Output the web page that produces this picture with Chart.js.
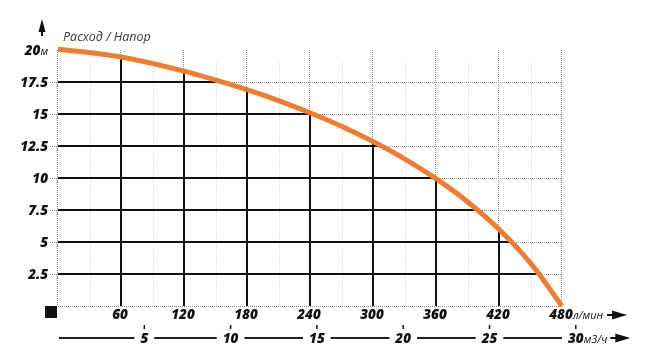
<!DOCTYPE html>
<html>
<head>
<meta charset="utf-8">
<script src="https://cdn.jsdelivr.net/npm/chart.js@4.4.1/dist/chart.umd.min.js"></script>
<style>
  body { margin: 0; background: #fff; }
  #wrap { width: 650px; height: 355px; position: relative; }
</style>
</head>
<body>
<div id="wrap"><canvas id="pump-chart"></canvas></div>
<script>
// flow (l/min) and head (m)
const flowLpm = [0, 30, 60, 90, 120, 150, 180, 210, 240, 270, 300, 330, 360, 390, 420, 450, 480];
const headM = [20.05, 19.8, 19.45, 18.95, 18.35, 17.65, 16.9, 16.05, 15.1, 14.05, 12.85, 11.5, 9.95, 8.15, 6.0, 3.35, 0];

const flowTicks = [60, 120, 180, 240, 300, 360, 420, 480];
const minorFlowLines = [30, 90, 150, 210, 270, 330, 390, 450];
const headTicks = [2.5, 5, 7.5, 10, 12.5, 15, 17.5, 20];
const m3hTicks = [5, 10, 15, 20, 25, 30];

const titleText = 'Расход / Напор';
const headUnit = 'м';
const flowUnit = 'л/мин';
const m3hUnit = 'м3/ч';

const ORANGE = '#ef7d31';
const BOLD = 'italic 800 13.5px "Open Sans"';
const UNIT = 'italic 11px "Open Sans"';

const canvas = document.getElementById('pump-chart');

function curvePath(ctx, chart) {
  const meta = chart.getDatasetMeta(0);
  const pts = meta.data;
  const { bottom, left } = chart.chartArea;
  ctx.beginPath();
  ctx.moveTo(pts[0].x, pts[0].y);
  for (let i = 1; i < pts.length; i++) {
    const p = pts[i - 1], c = pts[i];
    if (p.cp2x !== undefined && c.cp1x !== undefined) {
      ctx.bezierCurveTo(p.cp2x, p.cp2y, c.cp1x, c.cp1y, c.x, c.y);
    } else {
      ctx.lineTo(c.x, c.y);
    }
  }
  ctx.lineTo(pts[pts.length - 1].x, bottom + 1);
  ctx.lineTo(left - 1, bottom + 1);
  ctx.lineTo(left - 1, pts[0].y);
  ctx.closePath();
}

const gridPlugin = {
  id: 'pumpGrid',
  beforeDatasetsDraw(chart) {
    const ctx = chart.ctx;
    const x = chart.scales.x, y = chart.scales.y;
    const top = y.getPixelForValue(20), bottom = y.getPixelForValue(0);
    const left = x.getPixelForValue(0), right = x.getPixelForValue(480);
    ctx.save();

    // minor light dotted verticals
    ctx.strokeStyle = '#c8c8c8';
    ctx.lineWidth = 1;
    ctx.setLineDash([1, 2]);
    minorFlowLines.forEach(v => {
      const px = Math.round(x.getPixelForValue(v)) + 0.5;
      ctx.beginPath();
      ctx.moveTo(px, y.getPixelForValue(19.1));
      ctx.lineTo(px, bottom);
      ctx.stroke();
    });

    // major dotted grid (visible above curve)
    ctx.strokeStyle = '#8a8a8a';
    ctx.setLineDash([1, 1]);
    [0].concat(flowTicks).forEach(v => {
      const px = Math.round(x.getPixelForValue(v)) - 0.5;
      ctx.beginPath();
      ctx.moveTo(px, top);
      ctx.lineTo(px, bottom);
      ctx.stroke();
    });
    [0].concat(headTicks.filter(v => v < 20)).forEach(v => {
      const py = Math.round(y.getPixelForValue(v)) + 0.5;
      ctx.beginPath();
      ctx.moveTo(v === 0 ? left : left - 8, py);
      ctx.lineTo(right, py);
      ctx.stroke();
    });

    // solid black grid below the curve
    curvePath(ctx, chart);
    ctx.clip();
    ctx.setLineDash([]);
    ctx.strokeStyle = '#111';
    ctx.lineWidth = 2;
    flowTicks.forEach(v => {
      const px = Math.round(x.getPixelForValue(v));
      ctx.beginPath();
      ctx.moveTo(px, top);
      ctx.lineTo(px, bottom);
      ctx.stroke();
    });
    headTicks.filter(v => v < 20).forEach(v => {
      const py = Math.round(y.getPixelForValue(v));
      ctx.beginPath();
      ctx.moveTo(left, py);
      ctx.lineTo(right, py);
      ctx.stroke();
    });
    ctx.restore();
  },
  afterDraw(chart) {
    const ctx = chart.ctx;
    const x = chart.scales.x, y = chart.scales.y, x2 = chart.scales.x2;
    const bottom = y.getPixelForValue(0);
    ctx.save();
    ctx.fillStyle = '#111';
    ctx.textBaseline = 'middle';

    // y labels
    ctx.textAlign = 'right';
    headTicks.forEach(v => {
      const py = y.getPixelForValue(v) + 1;
      let xr = 48;
      if (v === 20) {
        ctx.font = UNIT;
        ctx.fillText(headUnit, xr, py + 1);
        xr -= ctx.measureText(headUnit).width;
      }
      ctx.font = BOLD;
      ctx.fillText(String(v), xr, py);
    });

    // y arrow
    ctx.beginPath();
    ctx.moveTo(42, 19);
    ctx.lineTo(45.5, 32);
    ctx.lineTo(38.5, 32);
    ctx.closePath();
    ctx.fill();
    ctx.fillRect(41, 30, 2, 6);

    // title
    ctx.textAlign = 'left';
    ctx.font = 'italic 12.5px "Open Sans"';
    ctx.fillStyle = '#3a3a3a';
    ctx.fillText(titleText, 63, 37);
    ctx.fillStyle = '#111';

    // black square at origin
    ctx.fillRect(45, 306, 12, 12);

    // flow labels l/min
    const row1 = bottom + 9;
    ctx.font = BOLD;
    ctx.textAlign = 'center';
    flowTicks.forEach(v => {
      ctx.fillText(String(v), x.getPixelForValue(v) - 1, row1);
    });
    const endX = x.getPixelForValue(480) - 1 + ctx.measureText('480').width / 2;
    ctx.font = UNIT;
    ctx.textAlign = 'left';
    ctx.fillText(flowUnit, endX, row1 + 1);
    const u1 = endX + ctx.measureText(flowUnit).width;
    drawArrow(ctx, u1 + 4, row1);

    // m3/h axis
    const row2 = bottom + 32;
    ctx.font = BOLD;
    ctx.textAlign = 'center';
    ctx.fillStyle = '#111';
    let segStart = x.getPixelForValue(0) + 1;
    ctx.lineWidth = 2;
    ctx.strokeStyle = '#222';
    m3hTicks.forEach(v => {
      const px = x2.getPixelForValue(v);
      const w = ctx.measureText(String(v)).width;
      ctx.beginPath();
      ctx.moveTo(segStart, row2);
      ctx.lineTo(px - w / 2 - 6, row2);
      ctx.stroke();
      segStart = px + w / 2 + 6;
      ctx.fillText(String(v), px, row2 + 1);
      ctx.fillRect(px - 0.75, row2 - 13, 1.5, 4);
    });
    const last = m3hTicks[m3hTicks.length - 1];
    const lx = x2.getPixelForValue(last) + ctx.measureText(String(last)).width / 2;
    ctx.font = UNIT;
    ctx.textAlign = 'left';
    ctx.fillText(m3hUnit, lx, row2 + 2);
    drawArrow(ctx, lx + ctx.measureText(m3hUnit).width + 3, row2);
    ctx.restore();
  }
};

function drawArrow(ctx, x0, yc) {
  ctx.fillRect(x0, yc - 1, 8, 2);
  ctx.beginPath();
  ctx.moveTo(x0 + 5, yc - 4.5);
  ctx.lineTo(x0 + 20, yc);
  ctx.lineTo(x0 + 5, yc + 4.5);
  ctx.closePath();
  ctx.fill();
}

new Chart(canvas, {
  type: 'line',
  data: {
    datasets: [{
      data: flowLpm.map((f, i) => ({ x: f, y: headM[i] })),
      borderColor: ORANGE,
      borderWidth: 5,
      borderCapStyle: 'butt',
      pointRadius: 0,
      fill: false,
      tension: 0.4,
      clip: false
    }]
  },
  options: {
    responsive: true,
    maintainAspectRatio: false,
    animation: false,
    layout: { padding: { left: 58, right: 88, top: 50, bottom: 49 } },
    plugins: { legend: { display: false }, tooltip: { enabled: false } },
    scales: {
      x: { type: 'linear', min: 0, max: 480, display: false },
      x2: { type: 'linear', min: 0, max: 29.2, display: false },
      y: { type: 'linear', min: 0, max: 20, display: false }
    }
  },
  plugins: [gridPlugin]
});
</script>
</body>
</html>
